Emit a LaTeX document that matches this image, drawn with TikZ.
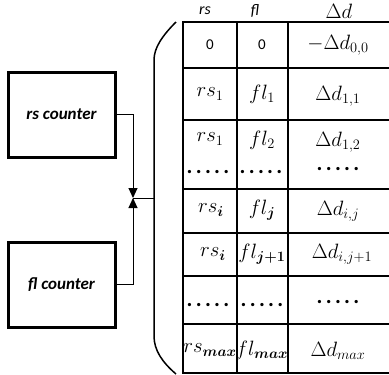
\documentclass[tikz,border=0pt]{standalone}
\usepackage{amsmath}
\usepackage{fontspec}
\setsansfont{Carlito}
\usetikzlibrary{arrows.meta}
\newcommand{\dotrow}{\textbf{.\kern3.3pt.\kern3.3pt.\kern3.3pt.\kern3.3pt.}}
\tikzset{
  counter/.style={draw, line width=3pt, minimum width=107pt, minimum height=85pt, inner sep=0pt,
    font=\sffamily\bfseries\itshape\fontsize{17}{20}\selectfont},
  conn/.style={line width=1pt},
  tip/.style={-{Triangle[length=10pt,width=9pt]}},
  grid/.style={line width=2pt},
  brace/.style={line width=1.5pt},
  cell/.style={inner sep=0pt, font=\fontsize{22}{26}\selectfont},
  zero/.style={inner sep=0pt, font=\sffamily\fontsize{15}{18}\selectfont},
  hdr/.style={inner sep=0pt, font=\sffamily\itshape\fontsize{16}{18}\selectfont},
  hdrm/.style={inner sep=0pt, font=\fontsize{20}{24}\selectfont},
  dotcell/.style={inner sep=0pt, text height=4pt, text depth=0pt, font=\sffamily\fontsize{22}{26}\selectfont},
}
\begin{document}
\begin{tikzpicture}[x=1pt,y=-1pt]
\useasboundingbox (0,0) rectangle (389,375);
% counters
\node[counter] (rsc) at (61.5,114.5) {rs counter};
\node[counter] (flc) at (61.5,284.5) {fl counter};
\coordinate (j) at (133,198);
\coordinate (b) at (154,198);
\draw[conn,tip] (rsc.east) -| (j);
\draw[conn,tip] (flc.east) -| (j);
\draw[conn] (j) -- (b);
% brace
\draw[brace] (176,22) .. controls (162,36) and (154,48) .. (154,60) -- (154,336)
  .. controls (154,350) and (162,362) .. (176,374);
% table grid
\foreach \y in {22,68,120,189,233,276,324,373}
  \draw[grid] (182,\y) -- (389,\y);
\foreach \x in {183,237,288}
  \draw[grid] (\x,21) -- (\x,374);
% headers
\node[hdr] (h1) at (205,11) {rs};
\node[hdr] (h2) at (255,11) {fl};
\node[hdrm] (h3) at (339,11) {$\Delta d$};
% row 1
\node[zero] (a1) at (210,45) {0};
\node[zero] (b1) at (262,45) {0};
\node[cell] (c1) at (338,45) {$-\Delta d_{0,0}$};
% row 2
\node[cell] (a2) at (210,94) {$rs_1$};
\node[cell] (b2) at (262,94) {$fl_1$};
\node[cell] (c2) at (338,96) {$\Delta d_{1,1}$};
% row 3
\node[cell] (a3) at (210,139) {$rs_1$};
\node[cell] (b3) at (262,140) {$fl_2$};
\node[cell] (c3) at (338,142) {$\Delta d_{1,2}$};
\node[dotcell] (a3d) at (208,171) {\dotrow};
\node[dotcell] (b3d) at (261,171) {\dotrow};
\node[dotcell] (c3d) at (338,168) {\dotrow};
% row 4
\node[cell] (a4) at (211,210) {$rs_{\boldsymbol{i}}$};
\node[cell] (b4) at (262,210) {$fl_{\boldsymbol{j}}$};
\node[cell] (c4) at (338,211) {$\Delta d_{i,j}$};
% row 5
\node[cell] (a5) at (213,254) {$rs_{\boldsymbol{i}}$};
\node[cell] (b5) at (262,254) {$fl_{\boldsymbol{j+1}}$};
\node[cell] (c5) at (342,254) {$\Delta d_{i,j+1}$};
% row 6
\node[dotcell] (a6) at (208,304) {\dotrow};
\node[dotcell] (b6) at (262,304) {\dotrow};
\node[dotcell] (c6) at (338,301) {\dotrow};
% row 7
\node[cell,font=\fontsize{21}{25}\selectfont] (a7) at (210,350) {$rs_{\boldsymbol{max}}$};
\node[cell,font=\fontsize{21}{25}\selectfont] (b7) at (262,350) {$fl_{\boldsymbol{max}}$};
\node[cell] (c7) at (338,351) {$\Delta d_{max}$};
\end{tikzpicture}
\end{document}
